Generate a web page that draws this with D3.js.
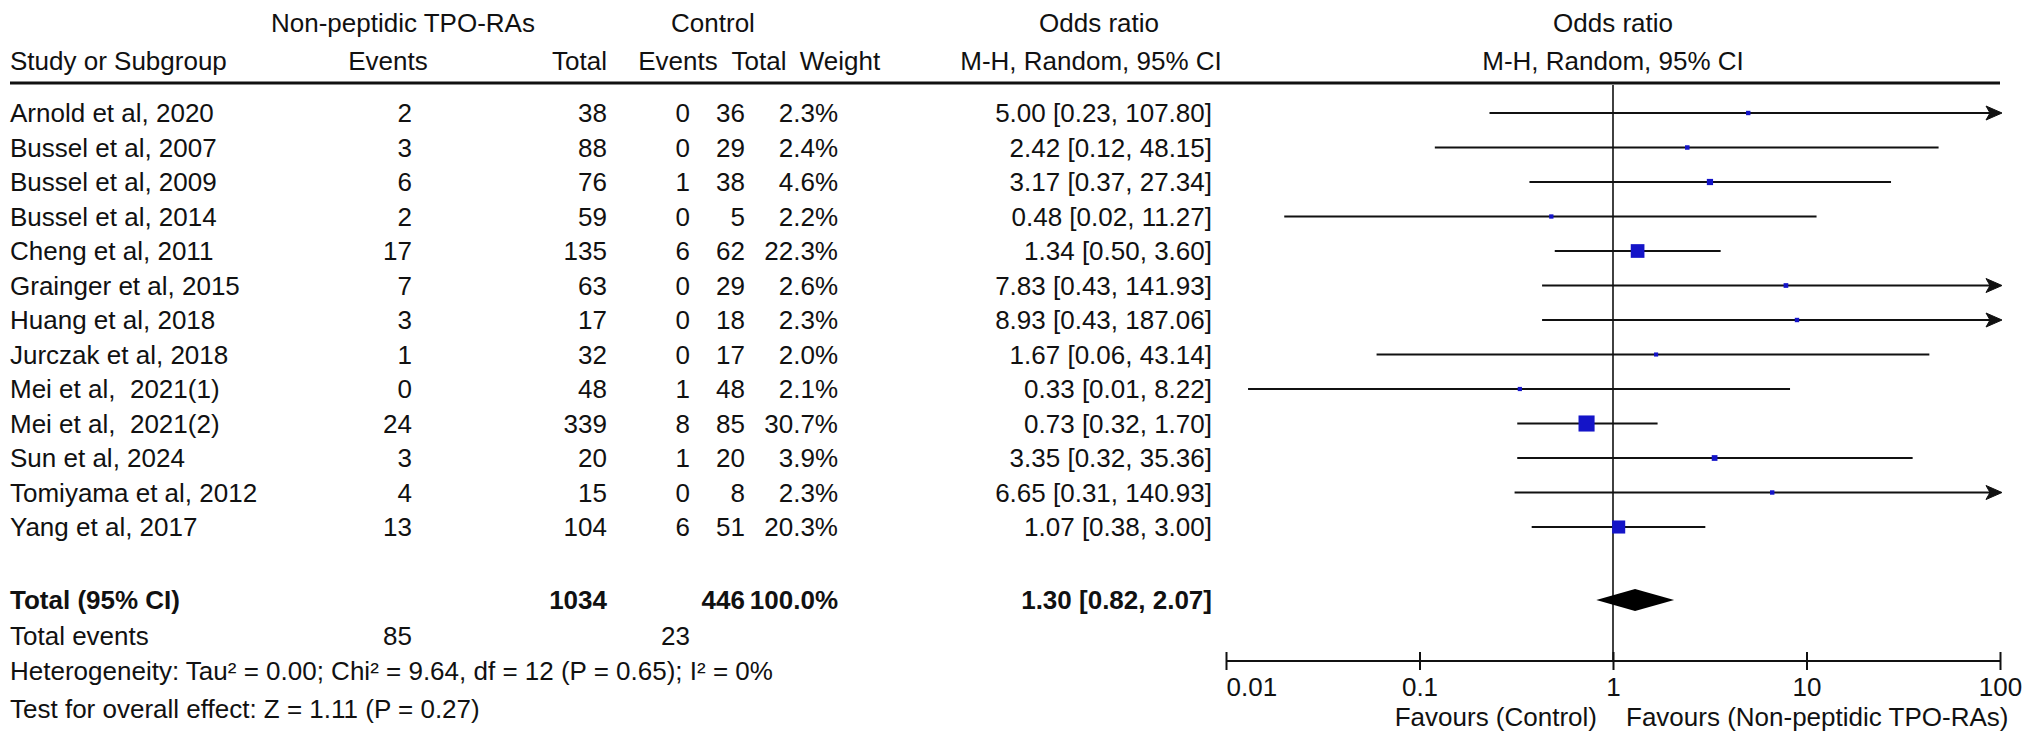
<!DOCTYPE html>
<html>
<head>
<meta charset="utf-8">
<title>Forest plot</title>
<script src="https://d3js.org/d3.v7.min.js"></script>
<style>
  body { margin: 0; background: #fff; }
  text { font-family: "Liberation Sans", Arial, sans-serif; font-size: 26px; fill: #111; white-space: pre; }
</style>
</head>
<body>
<svg width="2032" height="747"></svg>
<script>
var studies = ["Arnold et al, 2020", "Bussel et al, 2007", "Bussel et al, 2009", "Bussel et al, 2014",
  "Cheng et al, 2011", "Grainger et al, 2015", "Huang et al, 2018", "Jurczak et al, 2018",
  "Mei et al,  2021(1)", "Mei et al,  2021(2)", "Sun et al, 2024", "Tomiyama et al, 2012", "Yang et al, 2017"];
var expEvents = [2, 3, 6, 2, 17, 7, 3, 1, 0, 24, 3, 4, 13];
var expTotal = [38, 88, 76, 59, 135, 63, 17, 32, 48, 339, 20, 15, 104];
var ctlEvents = [0, 0, 1, 0, 6, 0, 0, 0, 1, 8, 1, 0, 6];
var ctlTotal = [36, 29, 38, 5, 62, 29, 18, 17, 48, 85, 20, 8, 51];
var weights = [2.3, 2.4, 4.6, 2.2, 22.3, 2.6, 2.3, 2.0, 2.1, 30.7, 3.9, 2.3, 20.3];
var oddsRatio = [5.00, 2.42, 3.17, 0.48, 1.34, 7.83, 8.93, 1.67, 0.33, 0.73, 3.35, 6.65, 1.07];
var ciLow = [0.23, 0.12, 0.37, 0.02, 0.50, 0.43, 0.43, 0.06, 0.013, 0.32, 0.32, 0.31, 0.38];
var ciHigh = [107.80, 48.15, 27.34, 11.27, 3.60, 141.93, 187.06, 43.14, 8.22, 1.70, 35.36, 140.93, 3.00];

var total = { exp: 1034, ctl: 446, weight: 100.0, or: 1.30, lo: 0.82, hi: 2.07, expEv: 85, ctlEv: 23 };
var heterogeneity = "Heterogeneity: Tau\u00b2 = 0.00; Chi\u00b2 = 9.64, df = 12 (P = 0.65); I\u00b2 = 0%";
var overall = "Test for overall effect: Z = 1.11 (P = 0.27)";
var ticks = [0.01, 0.1, 1, 10, 100];

var svg = d3.select("svg");

var x = d3.scaleLog().domain([0.01, 100]).range([1226, 2000]);
var y = d3.scaleLinear().domain([0, studies.length - 1]).range([113, 527]);
var yTotal = 600, yAxis = 661;

var col = { study: 10, expEv: 412, expTot: 607, ctlEv: 690, ctlTot: 745, weight: 838, or: 1212 };

function txt(xp, yp, s, anchor, bold) {
  return svg.append("text").attr("x", xp).attr("y", yp).attr("dy", "0.35em")
    .attr("text-anchor", anchor || "start")
    .attr("font-weight", bold ? "bold" : null)
    .text(s);
}

// headers
txt(403, 23, "Non-peptidic TPO-RAs", "middle");
txt(713, 23, "Control", "middle");
txt(1099, 23, "Odds ratio", "middle");
txt(x(1), 23, "Odds ratio", "middle");
txt(col.study, 61, "Study or Subgroup");
txt(388, 61, "Events", "middle");
txt(col.expTot, 61, "Total", "end");
txt(678, 61, "Events", "middle");
txt(759, 61, "Total", "middle");
txt(840, 61, "Weight", "middle");
txt(1091, 61, "M-H, Random, 95% CI", "middle");
txt(x(1), 61, "M-H, Random, 95% CI", "middle");

svg.append("line").attr("x1", 10).attr("x2", x(100)).attr("y1", 83).attr("y2", 83)
  .attr("stroke", "#111").attr("stroke-width", 3);

// null line
svg.append("line").attr("x1", x(1)).attr("x2", x(1)).attr("y1", 85).attr("y2", yAxis)
  .attr("stroke", "#111").attr("stroke-width", 1.6);

// study rows
studies.forEach(function(s, i) {
  var yy = y(i);
  txt(col.study, yy, s);
  txt(col.expEv, yy, expEvents[i], "end");
  txt(col.expTot, yy, expTotal[i], "end");
  txt(col.ctlEv, yy, ctlEvents[i], "end");
  txt(col.ctlTot, yy, ctlTotal[i], "end");
  txt(col.weight, yy, weights[i].toFixed(1) + "%", "end");
  txt(col.or, yy, oddsRatio[i].toFixed(2) + " [" + ciLow[i].toFixed(2) + ", " + ciHigh[i].toFixed(2) + "]", "end");

  var lo = Math.max(ciLow[i], 0.01), hi = Math.min(ciHigh[i], 100);
  var xe = ciHigh[i] > 100 ? x(100) - 10 : x(hi);
  svg.append("line").attr("x1", x(lo)).attr("x2", xe).attr("y1", yy).attr("y2", yy)
    .attr("stroke", "#111").attr("stroke-width", 1.8);
  if (ciHigh[i] > 100) {
    var ax = x(100) + 2;
    svg.append("path").attr("d", "M" + (ax - 16) + "," + (yy - 7) + "L" + ax + "," + yy + "L" + (ax - 16) + "," + (yy + 7) + "L" + (ax - 12) + "," + yy + "Z")
      .attr("fill", "#111").attr("stroke", "#111").attr("stroke-width", 1);
  }
  var side = 2.9 * Math.sqrt(weights[i]);
  svg.append("rect").attr("x", x(oddsRatio[i]) - side / 2).attr("y", yy - side / 2)
    .attr("width", side).attr("height", side).attr("fill", "#1414c8");
});

// total row
txt(col.study, yTotal, "Total (95% CI)", "start", true);
txt(col.expTot, yTotal, total.exp, "end", true);
txt(col.ctlTot, yTotal, total.ctl, "end", true);
txt(col.weight, yTotal, total.weight.toFixed(1) + "%", "end", true);
txt(col.or, yTotal, total.or.toFixed(2) + " [" + total.lo.toFixed(2) + ", " + total.hi.toFixed(2) + "]", "end", true);
svg.append("path")
  .attr("d", "M" + x(total.lo) + "," + yTotal + "L" + x(total.or) + "," + (yTotal - 11) +
    "L" + x(total.hi) + "," + yTotal + "L" + x(total.or) + "," + (yTotal + 11) + "Z")
  .attr("fill", "#000");

txt(col.study, 636, "Total events");
txt(col.expEv, 636, total.expEv, "end");
txt(col.ctlEv, 636, total.ctlEv, "end");
txt(col.study, 671, heterogeneity);
txt(col.study, 709, overall);

// axis
var axis = d3.axisBottom(x).tickValues(ticks).tickSize(9).tickFormat(function(d) { return String(d); });
var gAxis = svg.append("g").attr("transform", "translate(0," + yAxis + ")").call(axis);
gAxis.select(".domain").attr("d", "M" + x(0.01) + ",0H" + x(100)).attr("stroke", "#111").attr("stroke-width", 2);
gAxis.selectAll(".tick line").attr("y1", -9).attr("y2", 9).attr("stroke", "#111").attr("stroke-width", 2);
gAxis.selectAll(".tick text").attr("y", 26).attr("dy", "0.35em").attr("font-size", null).attr("font-family", null)
  .attr("fill", "#111")
  .attr("text-anchor", function(d, i) { return i === 0 ? "start" : "middle"; })
  .attr("x", 0);

txt(x(1) - 16, 717, "Favours (Control)", "end");
txt(x(1) + 13, 717, "Favours (Non-peptidic TPO-RAs)", "start");
</script>
</body>
</html>
